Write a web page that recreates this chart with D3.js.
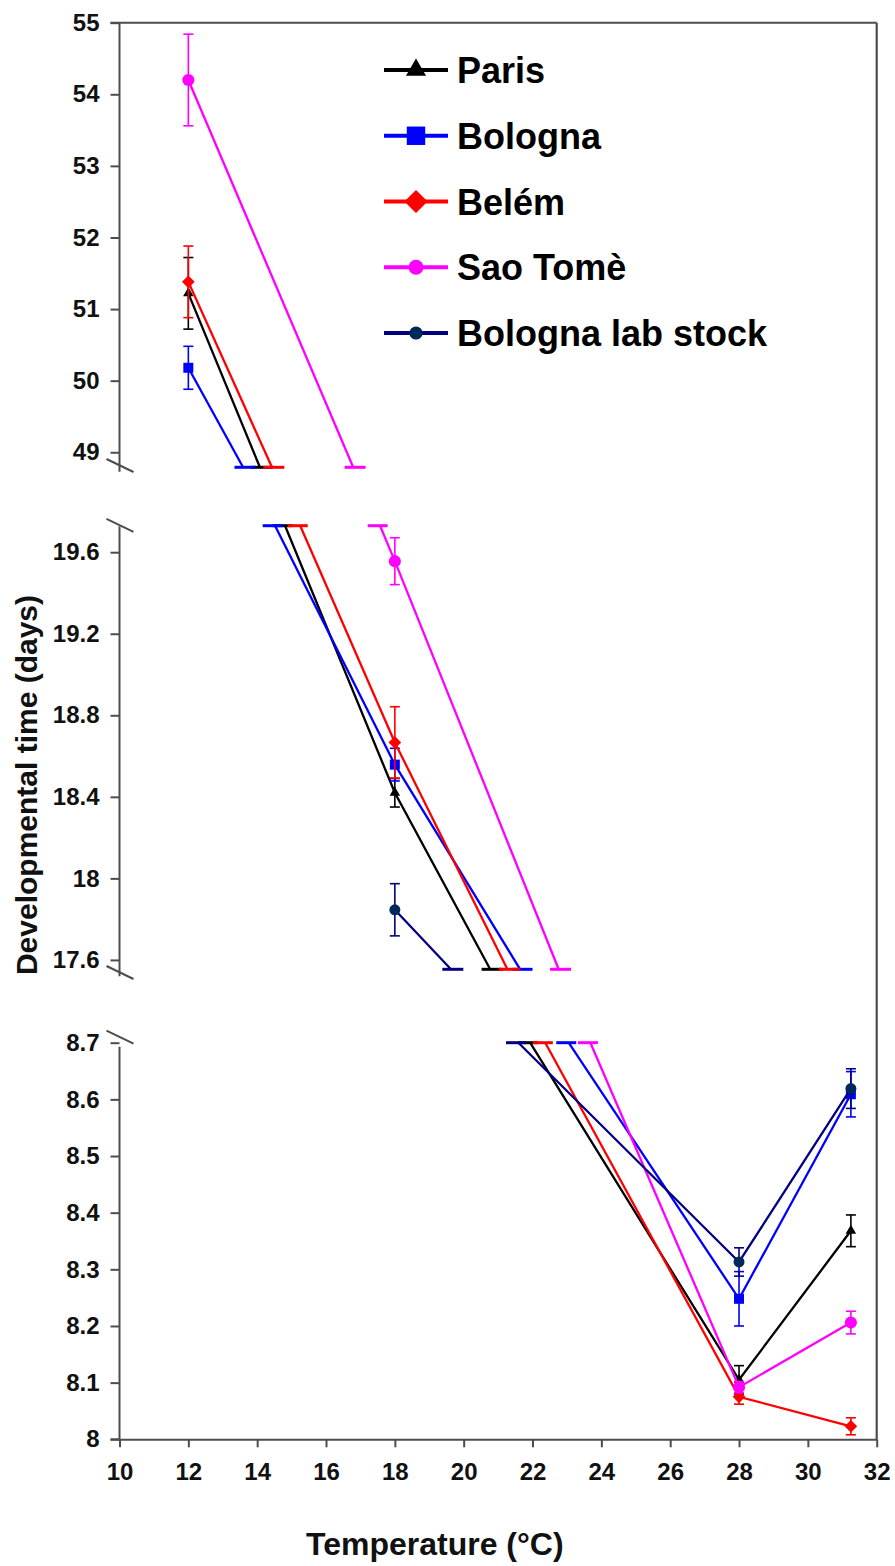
<!DOCTYPE html>
<html>
<head>
<meta charset="utf-8">
<script src="https://cdn.jsdelivr.net/npm/d3@7"></script>
<style>
  html, body { margin: 0; padding: 0; background: #fff; }
  svg { display: block; font-family: "Liberation Sans", Arial, sans-serif; }
</style>
</head>
<body>
<svg id="chart" width="895" height="1566"></svg>
<script>
// ---------------- data ----------------
const seriesNames = ["Paris", "Bologna", "Belém", "Sao Tomè", "Bologna lab stock"];
const temps = [12, 18, 28, 31.25];

const paris     = [51.22, 18.42, 8.105, 8.368];
const bologna   = [50.18, 18.558, 8.248, 8.609];
const belem     = [51.38, 18.667, 8.075, 8.023];
const saoTome   = [54.20, 19.556, 8.092, 8.206];
const labStock  = [null, 17.846, 8.313, 8.619];

const parisErr    = [0.50, 0.07, 0.025, 0.028];
const bolognaErr  = [0.30, 0.08, 0.048, 0.040];
const belemErr    = [0.50, 0.175, 0.013, 0.015];
const saoTomeErr  = [0.64, 0.115, 0.010, 0.020];
const labStockErr = [null, 0.128, 0.025, 0.035];

// temperatures at which each line leaves / enters the broken-axis panels
const panel1Exit  = [14.08, 13.59, 14.43, 16.79, null];
const panel2Entry = [14.81, 14.52, 15.25, 17.57, null];
const panel2Exit  = [20.77, 21.64, 21.27, 22.76, 19.63];
const panel3Entry = [21.93, 23.05, 22.37, 23.68, 21.59];

const xTicks = [10, 12, 14, 16, 18, 20, 22, 24, 26, 28, 30, 32];
const panel1Ticks = [49, 50, 51, 52, 53, 54, 55];
const panel2Ticks = [17.6, 18, 18.4, 18.8, 19.2, 19.6];
const panel3Ticks = [8, 8.1, 8.2, 8.3, 8.4, 8.5, 8.6, 8.7];
const panel1Domain = [48.79, 55];
const panel2Domain = [17.554, 19.73];
const panel3Domain = [8, 8.7];

// ---------------- styles ----------------
const colors  = ["#000000", "#0000ff", "#ff0000", "#ff00ff", "#000080"];
const mColors = ["#000000", "#0000ff", "#ff0000", "#ff00ff", "#00285a"];
const symbols = [d3.symbolTriangle, d3.symbolSquare, d3.symbolSquare, d3.symbolCircle, d3.symbolCircle];
const symRot  = [0, 0, 45, 0, 0];
const symSize = [48, 100, 80, 115, 95];
const legSize = [175, 340, 270, 180, 135];

const values = [paris, bologna, belem, saoTome, labStock];
const errs = [parisErr, bolognaErr, belemErr, saoTomeErr, labStockErr];

const svg = d3.select("#chart");
const axisColor = "#4d4d4d";
const fontFam = '"Liberation Sans", Arial, sans-serif';

const x = d3.scaleLinear().domain([10, 32]).range([119.5, 876.7]);
const axisX = x(10);

const panels = [
  { domain: panel1Domain, range: [467.3, 22.7],  ticks: panel1Ticks, axisExt: [0, 4.4] },
  { domain: panel2Domain, range: [969.3, 525.7], ticks: panel2Ticks, axisExt: [-0.5, 7] },
  { domain: panel3Domain, range: [1439.3, 1042.7], ticks: panel3Ticks, axisExt: [-4, 0] }
];
panels.forEach(p => { p.y = d3.scaleLinear().domain(p.domain).range(p.range); });

const fmt = d => String(+d.toFixed(2));

// ---------------- axes ----------------
panels.forEach((p, i) => {
  const g = svg.append("g").attr("transform", `translate(${axisX},0)`);
  g.call(d3.axisLeft(p.y).tickValues(p.ticks).tickSize(9).tickSizeOuter(0).tickPadding(11).tickFormat(fmt));
  g.select(".domain").remove();
  g.selectAll(".tick line").attr("stroke", axisColor).attr("stroke-width", 2);
  g.selectAll(".tick text")
    .attr("fill", "#111").attr("font-size", 24).attr("font-weight", "bold")
    .attr("font-family", fontFam);
  // axis line
  svg.append("line")
    .attr("x1", axisX).attr("x2", axisX)
    .attr("y1", p.range[1] - p.axisExt[0]).attr("y2", p.range[0] + p.axisExt[1])
    .attr("stroke", axisColor).attr("stroke-width", 2);
});

// break marks
const breaks = [
  { y: panels[0].range[0] - 1.8 },
  { y: panels[1].range[1] - 0.4 },
  { y: panels[1].range[0] + 3.2 },
  { y: panels[2].range[1] - 5.5 }
];
breaks.forEach(b => {
  svg.append("line")
    .attr("x1", axisX - 13).attr("y1", b.y - 6.5)
    .attr("x2", axisX + 14).attr("y2", b.y + 6.5)
    .attr("stroke", axisColor).attr("stroke-width", 2);
});

// top border (55 line) and right border
svg.append("line").attr("x1", axisX - 9).attr("x2", x(32))
  .attr("y1", panels[0].y(55)).attr("y2", panels[0].y(55))
  .attr("stroke", axisColor).attr("stroke-width", 2);
svg.append("line").attr("x1", x(32)).attr("x2", x(32))
  .attr("y1", panels[0].y(55)).attr("y2", panels[2].y(8))
  .attr("stroke", axisColor).attr("stroke-width", 2.2);

// bottom x axis
const gx = svg.append("g").attr("transform", `translate(0,${panels[2].y(8)})`);
gx.call(d3.axisBottom(x).tickValues(xTicks).tickSize(8).tickSizeOuter(0).tickPadding(16).tickFormat(d3.format("d")));
gx.select(".domain").attr("stroke", axisColor).attr("stroke-width", 2);
gx.selectAll(".tick line").attr("stroke", axisColor).attr("stroke-width", 2);
gx.selectAll(".tick text")
  .attr("fill", "#111").attr("font-size", 24).attr("font-weight", "bold").attr("font-family", fontFam);
svg.append("line").attr("x1", axisX - 9).attr("x2", axisX)
  .attr("y1", panels[2].y(8)).attr("y2", panels[2].y(8))
  .attr("stroke", axisColor).attr("stroke-width", 2);

// axis titles
svg.append("text")
  .attr("transform", "translate(37,785) rotate(-90)")
  .attr("text-anchor", "middle").attr("font-size", 30).attr("font-weight", "bold")
  .attr("font-family", fontFam).attr("fill", "#111")
  .text("Developmental time (days)");
svg.append("text")
  .attr("x", 306).attr("y", 1555)
  .attr("font-size", 32).attr("font-weight", "bold")
  .attr("font-family", fontFam).attr("fill", "#111")
  .text("Temperature (°C)");

// ---------------- series ----------------
const line = (p) => d3.line().x(d => x(d[0])).y(d => p.y(d[1]));

function panelPath(si, pi) {
  const v = values[si];
  if (pi === 0) {
    if (v[0] == null) return null;
    return [[temps[0], v[0]], [panel1Exit[si], panel1Domain[0]]];
  }
  if (pi === 1) {
    const pts = [];
    if (panel2Entry[si] != null) pts.push([panel2Entry[si], panel2Domain[1]]);
    pts.push([temps[1], v[1]]);
    pts.push([panel2Exit[si], panel2Domain[0]]);
    return pts;
  }
  return [[panel3Entry[si], panel3Domain[1]], [temps[2], v[2]], [temps[3], v[3]]];
}

values.forEach((v, si) => {
  const g = svg.append("g");
  panels.forEach((p, pi) => {
    const pts = panelPath(si, pi);
    if (!pts) return;
    // small horizontal caps where the line is cut by the axis break
    const first = pts[0], last = pts[pts.length - 1];
    if (pi > 0 && first[1] === p.domain[1]) {
      g.append("line")
        .attr("x1", x(first[0] - 0.36)).attr("x2", x(first[0] + 0.22))
        .attr("y1", p.y(first[1])).attr("y2", p.y(first[1]))
        .attr("stroke", colors[si]).attr("stroke-width", 3);
    }
    if (pi < 2) {
      g.append("line")
        .attr("x1", x(last[0] - 0.25)).attr("x2", x(last[0] + 0.36))
        .attr("y1", p.y(last[1])).attr("y2", p.y(last[1]))
        .attr("stroke", colors[si]).attr("stroke-width", 3);
    }
    g.append("path")
      .attr("d", line(p)(pts))
      .attr("fill", "none").attr("stroke", colors[si]).attr("stroke-width", 2.3);
  });
  // error bars + markers
  temps.forEach((t, ti) => {
    if (v[ti] == null) return;
    const p = ti === 0 ? panels[0] : ti === 1 ? panels[1] : panels[2];
    const e = errs[si][ti];
    const cx = x(t);
    const y0 = p.y(v[ti] - e), y1 = p.y(v[ti] + e);
    g.append("line").attr("x1", cx).attr("x2", cx).attr("y1", y0).attr("y2", y1)
      .attr("stroke", colors[si]).attr("stroke-width", 1.6);
    [y0, y1].forEach(yy => g.append("line")
      .attr("x1", cx - 5).attr("x2", cx + 5).attr("y1", yy).attr("y2", yy)
      .attr("stroke", colors[si]).attr("stroke-width", 1.6));
    g.append("path")
      .attr("d", d3.symbol(symbols[si], symSize[si])())
      .attr("transform", `translate(${cx},${p.y(v[ti])}) rotate(${symRot[si]})`)
      .attr("fill", mColors[si]);
  });
});

// ---------------- legend ----------------
const legY = d3.scalePoint().domain(seriesNames).range([70, 333]);
const leg = svg.append("g");
seriesNames.forEach((name, si) => {
  const cy = legY(name);
  leg.append("line").attr("x1", 384).attr("x2", 448).attr("y1", cy).attr("y2", cy)
    .attr("stroke", colors[si]).attr("stroke-width", 4);
  leg.append("path")
    .attr("d", d3.symbol(symbols[si], legSize[si])())
    .attr("transform", `translate(416,${cy}) rotate(${symRot[si]})`)
    .attr("fill", mColors[si]);
  leg.append("text").attr("x", 457).attr("y", cy + 13)
    .attr("font-size", 36).attr("font-weight", "bold").attr("font-family", fontFam)
    .attr("fill", "#000").text(name);
});
</script>
</body>
</html>
